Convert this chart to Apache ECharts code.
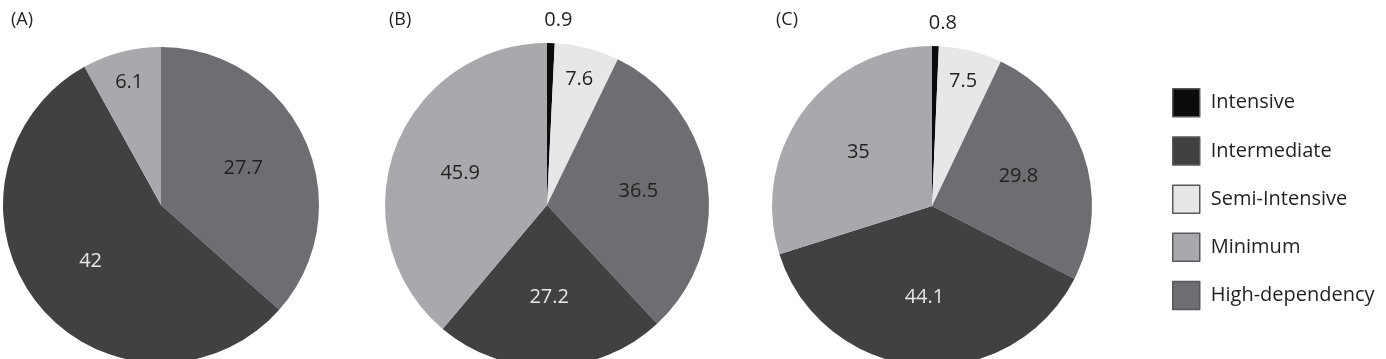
<!DOCTYPE html>
<html>
<head>
<meta charset="utf-8">
<script src="https://cdn.jsdelivr.net/npm/echarts@6/dist/echarts.min.js"></script>
<style>
  html, body { margin: 0; padding: 0; background: #fff; }
  #myChart { width: 1386px; height: 359px; }
</style>
</head>
<body>
<div id="myChart"></div>
<script>
// legend order
const legendData = ['Intensive', 'Intermediate', 'Semi-Intensive', 'Minimum', 'High-dependency']
// slice order, clockwise from 12 o'clock
const sliceOrder = ['Intensive', 'Semi-Intensive', 'High-dependency', 'Intermediate', 'Minimum']
const valuesA = [null, null, 27.7, 42, 6.1]
const valuesB = [0.9, 7.6, 36.5, 27.2, 45.9]
const valuesC = [0.8, 7.5, 29.8, 44.1, 35]
const panelTitles = ['(A)', '(B)', '(C)']

const colors = {
    'Intensive': '#0b0b0b',
    'Intermediate': '#414042',
    'Semi-Intensive': '#e6e7e8',
    'Minimum': '#a7a9ac',
    'High-dependency': '#6d6e71'
}
const labelColors = {
    'Intensive': '#231f20',
    'Intermediate': '#e6e7e8',
    'Semi-Intensive': '#231f20',
    'Minimum': '#231f20',
    'High-dependency': '#231f20'
}
const font = '"Open Sans", "Noto Sans", sans-serif'

const centers = [[161, 205], [547, 205], [932, 206]]
const radii = [158, 162, 160]
const titlePos = [6, 384, 771]

const pies = [valuesA, valuesB, valuesC].map(vals => {
    let data = []
    vals.forEach((v, i) => {
        if (v === null) return
        data.push({
            name: sliceOrder[i],
            value: v,
            itemStyle: { color: colors[sliceOrder[i]] },
            label: { color: labelColors[sliceOrder[i]] }
        })
    })
    return data
})

let myChart = echarts.init(document.getElementById('myChart'))

let series = pies.map((data, s) => {
    const total = data.reduce((a, d) => a + d.value, 0)
    return {
        type: 'pie',
        name: panelTitles[s],
        center: centers[s],
        radius: [0, radii[s]],
        startAngle: 90,
        clockwise: true,
        avoidLabelOverlap: false,
        animation: false,
        label: {
            show: true,
            position: 'inside',
            formatter: '{c}',
            fontFamily: font,
            fontSize: 20
        },
        labelLine: { show: false },
        emphasis: { disabled: true },
        // push small slices' labels outward like the original figure
        labelLayout: function (p) {
            const c = centers[p.seriesIndex]
            const share = data[p.dataIndex].value / total
            const k = share < 0.02 ? 2.2 : (share < 0.12 ? 1.55 : 1.1)
            const lx = p.labelRect.x + p.labelRect.width / 2
            const ly = p.labelRect.y + p.labelRect.height / 2
            const extra = share < 0.02 ? 7 : 0
            return { dx: (lx - c[0]) * (k - 1) + extra, dy: (ly - c[1]) * (k - 1) }
        },
        data: data
    }
})

let option = {
    backgroundColor: '#fff',
    title: panelTitles.map((t, i) => ({
        text: t,
        left: titlePos[i],
        top: 6,
        textStyle: { fontFamily: font, fontSize: 18, fontWeight: 'normal', color: '#231f20' }
    })),
    legend: {
        orient: 'vertical',
        left: 1167,
        top: 83,
        data: legendData,
        icon: 'rect',
        itemWidth: 27,
        itemHeight: 28,
        itemGap: 18.7,
        selectedMode: false,
        itemStyle: { borderColor: '#58595b', borderWidth: 1.5 },
        textStyle: { fontFamily: font, fontSize: 20, color: '#231f20', padding: [0, 0, 0, 6] }
    },
    series: series
}
myChart.setOption(option)
</script>
</body>
</html>
